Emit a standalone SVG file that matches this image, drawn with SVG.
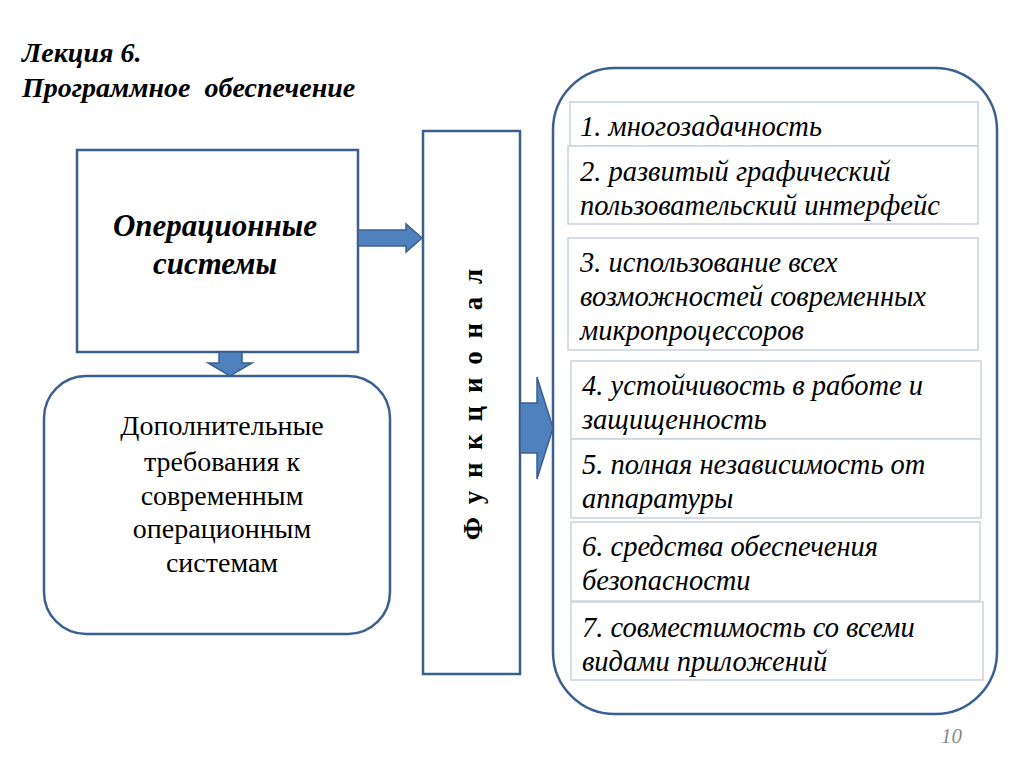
<svg xmlns="http://www.w3.org/2000/svg" width="1024" height="768" viewBox="0 0 1024 768">
<defs>
<style>
.box{fill:#fff;stroke:#3B5F8E;stroke-width:2.5}
.item{fill:#fff;stroke:#C9D2DE;stroke-width:1.5}
.arrow{fill:#4F81BD;stroke:#3B5F8E;stroke-width:1.5}
</style>
</defs>
<rect width="1024" height="768" fill="#fff"/>
<g id="title">
<text font-family="Liberation Serif" font-size="28" font-weight="bold" font-style="italic" x="22" y="62">Лекция 6.</text>
<text font-family="Liberation Serif" font-size="28" font-weight="bold" font-style="italic" x="22" y="97" xml:space="preserve">Программное  обеспечение</text>
</g>
<g id="os">
<rect class="box" x="77" y="150" width="281" height="202"/>
<text font-family="Liberation Serif" font-size="31" font-weight="bold" font-style="italic" text-anchor="middle" x="215" y="236">Операционные</text>
<text font-family="Liberation Serif" font-size="31" font-weight="bold" font-style="italic" text-anchor="middle" x="215" y="274">системы</text>
</g>
<g id="requirements">
<rect class="box" x="44" y="376" width="346" height="258" rx="42" ry="42"/>
<text font-family="Liberation Serif" font-size="28" text-anchor="middle" x="222" y="435">Дополнительные</text>
<text font-family="Liberation Serif" font-size="28" text-anchor="middle" x="222" y="471">требования к</text>
<text font-family="Liberation Serif" font-size="28" text-anchor="middle" x="222" y="505">современным</text>
<text font-family="Liberation Serif" font-size="28" text-anchor="middle" x="222" y="538">операционным</text>
<text font-family="Liberation Serif" font-size="28" text-anchor="middle" x="222" y="572">системам</text>
</g>
<g id="functional">
<rect class="box" x="423" y="131" width="97" height="543"/>
<text transform="translate(482,403) rotate(-90)" font-family="Liberation Serif" font-weight="bold" font-size="27" letter-spacing="3" text-anchor="middle">Ф у н к ц и о н а л</text>
</g>
<g id="features">
<rect class="box" x="553" y="68" width="444" height="646" rx="62" ry="62" stroke-width="3"/>
<g id="f1"><rect class="item" x="570" y="102" width="408" height="44"/>
<text font-family="Liberation Serif" font-size="28.5" font-style="italic" x="580" y="136">1. многозадачность</text></g>
<g id="f2"><rect class="item" x="568" y="146" width="410" height="78"/>
<text font-family="Liberation Serif" font-size="28.5" font-style="italic" x="580" y="181">2. развитый графический</text>
<text font-family="Liberation Serif" font-size="28.5" font-style="italic" x="580" y="215">пользовательский интерфейс</text></g>
<g id="f3"><rect class="item" x="568" y="238" width="410" height="112"/>
<text font-family="Liberation Serif" font-size="28.5" font-style="italic" x="580" y="272">3. использование всех</text>
<text font-family="Liberation Serif" font-size="28.5" font-style="italic" x="580" y="306">возможностей современных</text>
<text font-family="Liberation Serif" font-size="28.5" font-style="italic" x="580" y="340">микропроцессоров</text></g>
<g id="f4"><rect class="item" x="571" y="361" width="410" height="78"/>
<text font-family="Liberation Serif" font-size="28.5" font-style="italic" x="582" y="395">4. устойчивость в работе и</text>
<text font-family="Liberation Serif" font-size="28.5" font-style="italic" x="582" y="429">защищенность</text></g>
<g id="f5"><rect class="item" x="571" y="439" width="410" height="79"/>
<text font-family="Liberation Serif" font-size="28.5" font-style="italic" x="582" y="474">5. полная независимость от</text>
<text font-family="Liberation Serif" font-size="28.5" font-style="italic" x="582" y="508">аппаратуры</text></g>
<g id="f6"><rect class="item" x="571" y="522" width="409" height="79"/>
<text font-family="Liberation Serif" font-size="28.5" font-style="italic" x="582" y="556">6. средства обеспечения</text>
<text font-family="Liberation Serif" font-size="28.5" font-style="italic" x="582" y="590">безопасности</text></g>
<g id="f7"><rect class="item" x="571" y="602" width="412" height="78"/>
<text font-family="Liberation Serif" font-size="28.5" font-style="italic" x="582" y="637">7. совместимость со всеми</text>
<text font-family="Liberation Serif" font-size="28.5" font-style="italic" x="582" y="671">видами приложений</text></g>
</g>
<text x="941" y="743" font-family="Liberation Serif" font-style="italic" font-size="21" fill="#888">10</text>
<g id="connectors">
<path class="arrow" d="M358,230 L406,230 L406,224 L422,238 L406,252 L406,246 L358,246 Z"/>
<path class="arrow" d="M219,352 L242,352 L242,363 L252,363 L230,376 L208,363 L219,363 Z"/>
<path class="arrow" d="M520,403 L537,403 L537,377 L553,428 L537,479 L537,453 L520,453 Z"/>
</g>
</svg>
